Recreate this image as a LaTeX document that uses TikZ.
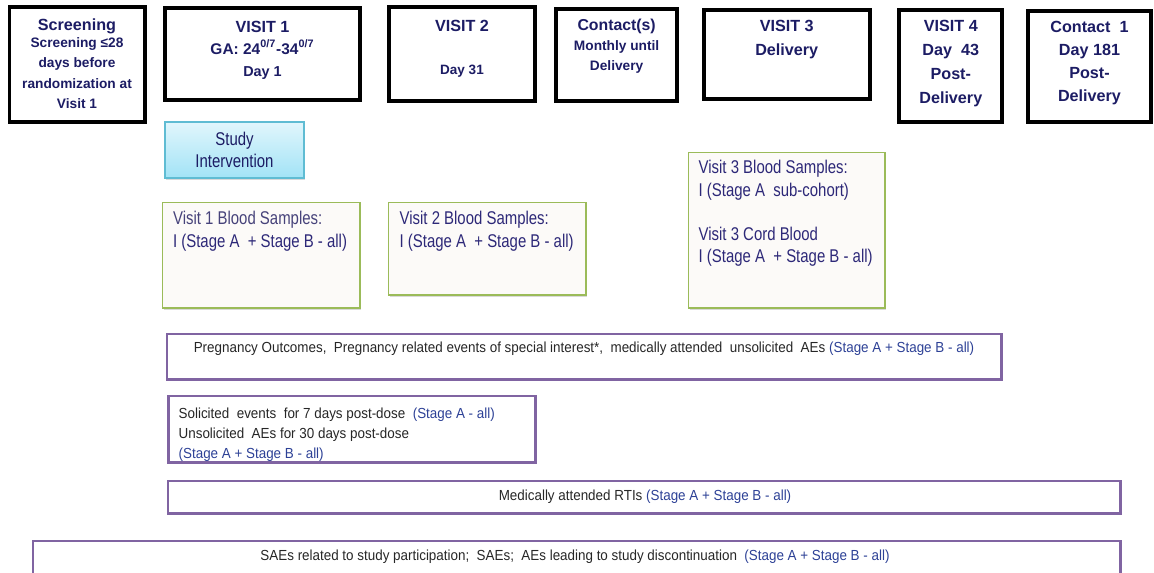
\documentclass[tikz,border=0pt]{standalone}
\usepackage{fontspec}
\setmainfont{Liberation Sans}
\newfontfamily\narrowfont{Liberation Sans}[FakeStretch=0.81]
\newfontfamily\evtfont{Liberation Sans}[FakeStretch=0.92]
\usetikzlibrary{shadows}
\definecolor{navy}{RGB}{28,28,100}
\definecolor{sampletxt}{RGB}{45,40,120}
\definecolor{stagetxt}{RGB}{45,65,150}
\definecolor{evtpurple}{RGB}{128,100,162}
\definecolor{samplegreen}{RGB}{155,187,89}
\definecolor{samplefill}{RGB}{252,250,248}
\definecolor{studyline}{RGB}{95,188,211}
\definecolor{studytop}{RGB}{225,246,252}
\definecolor{studybot}{RGB}{162,227,246}
\newcommand\subfont{\fontsize{7.8}{11.3}\selectfont}
\begin{document}
\begin{tikzpicture}[x=0.02cm,y=-0.02cm,
  hdrbox/.style={draw=black,line width=2.1pt,inner sep=0pt,outer sep=0pt,anchor=north west},
  hdrtxt/.style={align=center,text=navy,inner sep=0pt,anchor=north,
    font=\bfseries\fontsize{9.2}{11.5}\selectfont},
  samplebox/.style={draw=samplegreen,line width=0.9pt,fill=samplefill,inner sep=0pt,outer sep=0pt,
    anchor=north west,drop shadow={shadow xshift=0.8pt,shadow yshift=-1pt,opacity=0.3}},
  sampletxt/.style={align=left,text=sampletxt,inner sep=0pt,anchor=north west,
    font=\narrowfont\fontsize{10.5}{12.7}\selectfont},
  evtbox/.style={draw=evtpurple,line width=1.7pt,inner sep=0pt,outer sep=0pt,anchor=north west},
  evttxt/.style={inner sep=0pt,text=black!85,font=\evtfont\fontsize{8.3}{11.3}\selectfont}]
\useasboundingbox (0,0) rectangle (1154,573);
\clip (0,0) rectangle (1154,573);

% visit headers
\node[hdrbox,minimum width=2.704cm,minimum height=2.304cm] (scr) at (9.5,6.8) {};
\node[hdrtxt] (scrtxt) at (77,18) {Screening\\[-1.5pt]
  {\subfont Screening ≤28}\\{\subfont days before}\\{\subfont randomization at}\\{\subfont Visit 1}};
\node[hdrbox,minimum width=3.888cm,minimum height=1.846cm] (v1) at (165.3,8) {};
\node[hdrtxt,font=\bfseries\fontsize{9.2}{12.5}\selectfont] (v1txt) at (262.5,21)
  {VISIT 1\\{\fontsize{8.8}{12.5}\selectfont GA: 24\textsuperscript{0/7}-34\textsuperscript{0/7}}\\{\fontsize{8.2}{12}\selectfont Day 1}};
\node[hdrbox,minimum width=2.932cm,minimum height=1.868cm] (v2) at (388.7,7.3) {};
\node[hdrtxt] (v2txt) at (462,20) {VISIT 2\\[13pt]{\fontsize{7.7}{11}\selectfont Day 31}};
\node[hdrbox,minimum width=2.426cm,minimum height=1.852cm] (ct) at (556,8.7) {};
\node[hdrtxt,font=\bfseries\fontsize{9}{11.3}\selectfont] (cttxt) at (616.6,19)
  {Contact(s)\\{\subfont Monthly until}\\{\subfont Delivery}};
\node[hdrbox,minimum width=3.32cm,minimum height=1.774cm] (v3) at (703.7,10) {};
\node[hdrtxt,font=\bfseries\fontsize{9.2}{13.6}\selectfont] (v3txt) at (786.7,20) {VISIT 3\\Delivery};
\node[hdrbox,minimum width=2.06cm,minimum height=2.24cm] (v4) at (899.3,10) {};
\node[hdrtxt,font=\bfseries\fontsize{9.2}{13.6}\selectfont] (v4txt) at (950.8,20)
  {VISIT 4\\Day~~43\\Post-\\Delivery};
\node[hdrbox,minimum width=2.46cm,minimum height=2.214cm] (c1) at (1028,11.3) {};
\node[hdrtxt,font=\bfseries\fontsize{9.2}{13}\selectfont] (c1txt) at (1089.5,21)
  {Contact~~1\\Day 181\\Post-\\Delivery};

% intervention and samples
\node[draw=studyline,line width=0.6pt,top color=studytop,bottom color=studybot,
  minimum width=2.78cm,minimum height=1.12cm,align=center,text=navy,
  font=\narrowfont\fontsize{10.5}{12.7}\selectfont,
  drop shadow={shadow xshift=0.8pt,shadow yshift=-1pt,opacity=0.3}] (inter) at (234.5,150)
  {Study\\Intervention};
\node[samplebox,minimum width=3.954cm,minimum height=2.12cm] (s1) at (162.3,202.3) {};
\node[sampletxt] (s1txt) at (172.7,211)
  {{\color{sampletxt!70!gray}Visit 1 Blood Samples:}\\I (Stage A~ + Stage B - all)};
\node[samplebox,minimum width=3.954cm,minimum height=1.854cm] (s2) at (388.3,202.3) {};
\node[sampletxt] (s2txt) at (399.3,211)
  {Visit 2 Blood Samples:\\I (Stage A~ + Stage B - all)};
\node[samplebox,minimum width=3.934cm,minimum height=3.12cm] (s3) at (688.3,152.3) {};
\node[sampletxt] (s3txt) at (698.3,160)
  {Visit 3 Blood Samples:\\I (Stage A~ sub-cohort)\\[12.7pt]Visit 3 Cord Blood\\I (Stage A~ + Stage B - all)};

% safety follow-up
\node[evtbox,minimum width=16.7cm,minimum height=0.92cm] (preg) at (167,334) {};
\node[evttxt,anchor=base] (pregtxt) at (584,353)
  {Pregnancy Outcomes,~ Pregnancy related events of special interest*,~ medically attended~ unsolicited~ AEs
  {\color{stagetxt}(Stage A + Stage B - all)}};
\node[evtbox,minimum width=7.35cm,minimum height=1.33cm] (solic) at (168.5,396) {};
\node[evttxt,anchor=north west,align=left] (solictxt) at (178.3,408)
  {Solicited~ events~ for 7 days post-dose~ {\color{stagetxt}(Stage A - all)}\\
  Unsolicited~ AEs for 30 days post-dose\\{\color{stagetxt}(Stage A + Stage B - all)}};
\node[evtbox,minimum width=19.06cm,minimum height=0.66cm] (rti) at (168,481) {};
\node[evttxt,anchor=base] (rtitxt) at (645,501)
  {Medically attended RTIs {\color{stagetxt}(Stage A + Stage B - all)}};
\node[evtbox,minimum width=21.76cm,minimum height=1.2cm] (sae) at (33,541) {};
\node[evttxt,anchor=base] (saetxt) at (575,561)
  {SAEs related to study participation;~ SAEs;~ AEs leading to study discontinuation~
  {\color{stagetxt}(Stage A + Stage B - all)}};
\end{tikzpicture}
\end{document}
